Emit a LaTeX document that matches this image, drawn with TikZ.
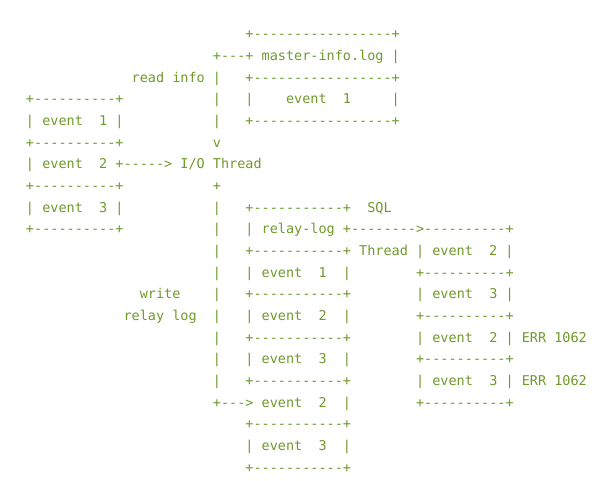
\documentclass[tikz,border=0pt]{standalone}
\usepackage{fontspec}
\setmonofont{DejaVu Sans Mono}
\definecolor{asciigreen}{RGB}{112,154,44}
\newcommand\cw{8.127}
\newcommand\rh{21.65}
\begin{document}
\begin{tikzpicture}[x=1pt,y=1pt,
  ascii/.style={anchor=base west,inner sep=0pt,outer sep=0pt,text=asciigreen,
    font=\fontsize{13.5}{16}\selectfont\ttfamily\frenchspacing}]
\fill[white] (0,0) rectangle (614,480);
\useasboundingbox (0,0) rectangle (614,480);
\newcommand\asciirow[4]{\node[ascii] (#1) at ({26+#2*\cw},{480-39-#3*\rh}) {#4};}
\asciirow{r0}{27}{0}{+-----------------+}
\asciirow{r1}{23}{1}{+---+~master-info.log~|}
\asciirow{r2}{13}{2}{read~info~|~~~+-----------------+}
\asciirow{r3}{0}{3}{+----------+~~~~~~~~~~~|~~~|~~~~event~~1~~~~~|}
\asciirow{r4}{0}{4}{|~event~~1~|~~~~~~~~~~~|~~~+-----------------+}
\asciirow{r5}{0}{5}{+----------+~~~~~~~~~~~v}
\asciirow{r6}{0}{6}{|~event~~2~+----->~I/O~Thread}
\asciirow{r7}{0}{7}{+----------+~~~~~~~~~~~+}
\asciirow{r8}{0}{8}{|~event~~3~|~~~~~~~~~~~|~~~+-----------+~~SQL}
\asciirow{r9}{0}{9}{+----------+~~~~~~~~~~~|~~~|~relay-log~+-------->----------+}
\asciirow{r10}{23}{10}{|~~~+-----------+~Thread~|~event~~2~|}
\asciirow{r11}{23}{11}{|~~~|~event~~1~~|~~~~~~~~+----------+}
\asciirow{r12}{14}{12}{write~~~~|~~~+-----------+~~~~~~~~|~event~~3~|}
\asciirow{r13}{12}{13}{relay~log~~|~~~|~event~~2~~|~~~~~~~~+----------+}
\asciirow{r14}{23}{14}{|~~~+-----------+~~~~~~~~|~event~~2~|~ERR~1062}
\asciirow{r15}{23}{15}{|~~~|~event~~3~~|~~~~~~~~+----------+}
\asciirow{r16}{23}{16}{|~~~+-----------+~~~~~~~~|~event~~3~|~ERR~1062}
\asciirow{r17}{23}{17}{+--->~event~~2~~|~~~~~~~~+----------+}
\asciirow{r18}{27}{18}{+-----------+}
\asciirow{r19}{27}{19}{|~event~~3~~|}
\asciirow{r20}{27}{20}{+-----------+}
\end{tikzpicture}
\end{document}
